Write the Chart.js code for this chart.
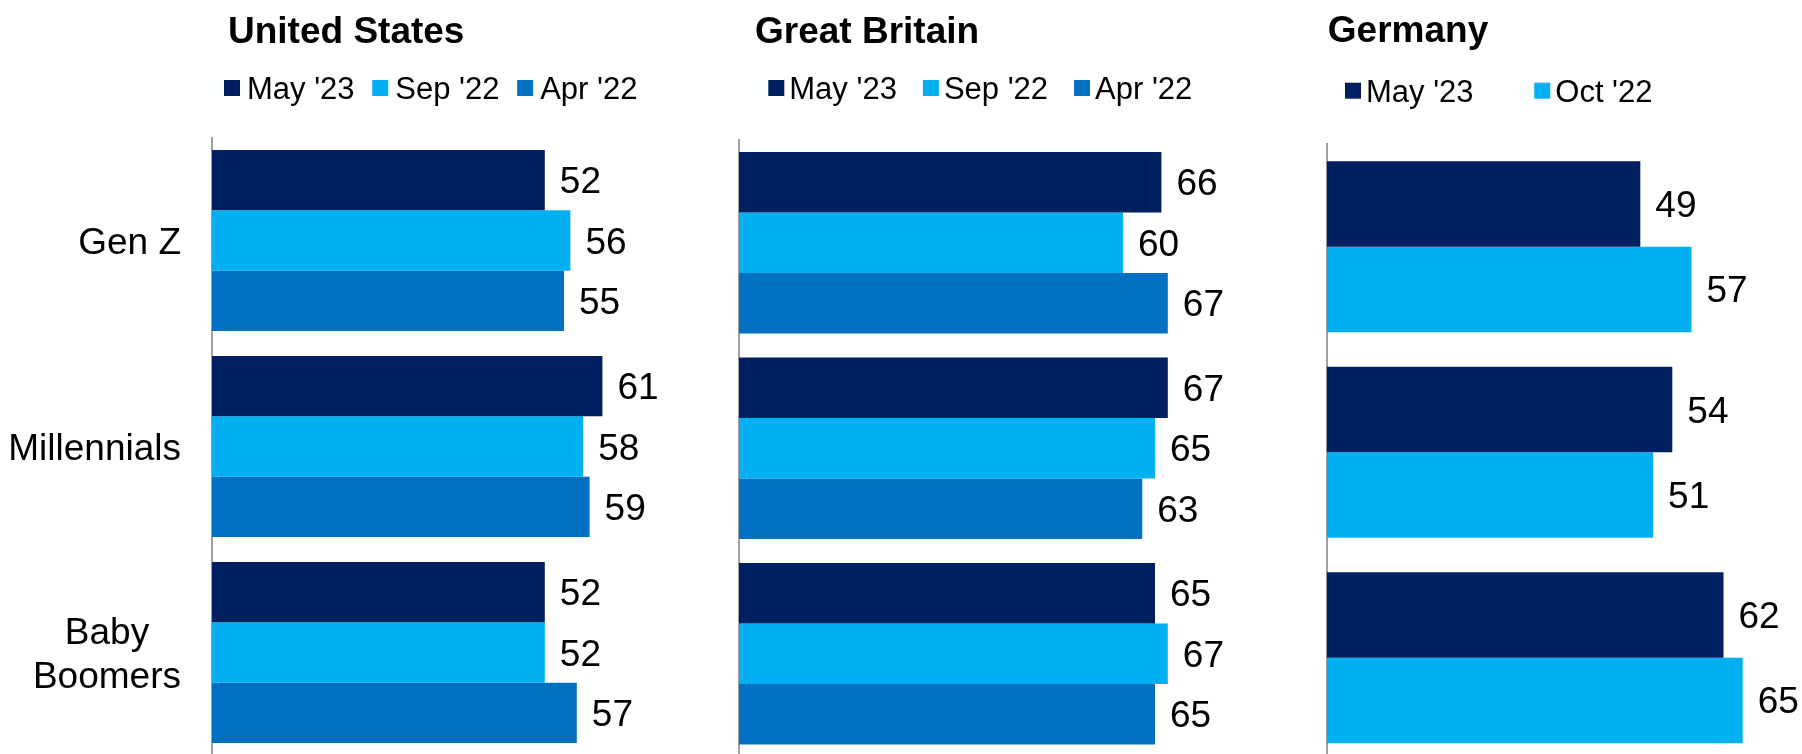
<!DOCTYPE html>
<html>
<head>
<meta charset="utf-8">
<script src="https://cdn.jsdelivr.net/npm/chart.js@4.4.1/dist/chart.umd.min.js"></script>
<style>
    html, body { margin: 0; padding: 0; background: #fff; overflow: hidden; width: 1802px; height: 754px; }
    canvas { position: absolute; top: 0; }
</style>
</head>
<body>
<canvas id="chartUS" width="730" height="770" style="left:0px"></canvas>
<canvas id="chartGB" width="570" height="770" style="left:730px"></canvas>
<canvas id="chartDE" width="502" height="770" style="left:1300px"></canvas>
<script>
const categories = ['Gen Z', 'Millennials', ['Baby', 'Boomers']];

const usWaves = ["May '23", "Sep '22", "Apr '22"];
const usMay23 = [52, 61, 52];
const usSep22 = [56, 58, 52];
const usApr22 = [55, 59, 57];

const gbWaves = ["May '23", "Sep '22", "Apr '22"];
const gbMay23 = [66, 67, 65];
const gbSep22 = [60, 65, 67];
const gbApr22 = [67, 63, 65];

const deWaves = ["May '23", "Oct '22"];
const deMay23 = [49, 54, 62];
const deOct22 = [57, 51, 65];

const NAVY = '#002060';
const SKY = '#00B0F0';
const BLUE = '#0070C0';
const FONT = '"Liberation Sans", Arial, sans-serif';
const CANVAS_H = 770;

// numbers to the right of each bar
const valueLabels = {
    id: 'valueLabels',
    afterDatasetsDraw(chart) {
        const c = chart.ctx;
        c.save();
        c.font = '37px ' + FONT;
        c.fillStyle = '#000';
        c.textAlign = 'left';
        c.textBaseline = 'alphabetic';
        chart.data.datasets.forEach((ds, di) => {
            chart.getDatasetMeta(di).data.forEach((bar, i) => {
                c.fillText(ds.data[i], bar.x + 15, bar.y + 13);
            });
        });
        c.restore();
    }
};

// category names: block right aligned, lines centred inside the block
const categoryLabels = {
    id: 'categoryLabels',
    afterDraw(chart, args, opts) {
        if (!opts.display) return;
        const { ctx: c, chartArea, scales: { y } } = chart;
        c.save();
        c.font = '37px ' + FONT;
        c.fillStyle = '#000';
        c.textAlign = 'center';
        c.textBaseline = 'alphabetic';
        chart.data.labels.forEach((label, i) => {
            const lines = [].concat(label);
            const w = Math.max(...lines.map(l => c.measureText(l).width));
            const cx = chartArea.left - opts.padding - w / 2;
            const cy = y.getPixelForValue(i);
            lines.forEach((line, k) => {
                c.fillText(line, cx, cy + 13 + (k - (lines.length - 1) / 2) * 44);
            });
        });
        c.restore();
    }
};

// country title + legend row
const panelHeader = {
    id: 'panelHeader',
    afterDraw(chart, args, opts) {
        const c = chart.ctx;
        c.save();
        c.textAlign = 'left';
        c.textBaseline = 'alphabetic';
        c.fillStyle = '#000';
        c.font = 'bold 37px ' + FONT;
        c.fillText(opts.title, opts.titleX, opts.titleY);

        c.font = '31px ' + FONT;
        let x = opts.legendX;
        chart.data.datasets.forEach(ds => {
            c.fillStyle = ds.backgroundColor;
            c.fillRect(x, opts.legendY - 19, 16, 16);
            c.fillStyle = '#000';
            c.fillText(ds.label, x + opts.textOffset, opts.legendY);
            x += opts.textOffset + c.measureText(ds.label).width + opts.itemGap;
        });
        c.restore();
    }
};

function makePanel(id, labels, series, colors, L) {
    const ctx = document.getElementById(id);
    return new Chart(ctx, {
        type: 'bar',
        data: {
            labels: categories,
            datasets: series.map((values, i) => ({
                label: labels[i],
                data: values,
                backgroundColor: colors[i],
                borderWidth: 0,
                categoryPercentage: L.catPct,
                barPercentage: 1
            }))
        },
        options: {
            indexAxis: 'y',
            responsive: false,
            animation: false,
            layout: {
                padding: { top: L.top, bottom: CANVAS_H - L.bottom, left: 0, right: L.padRight }
            },
            plugins: {
                legend: { display: false },
                tooltip: { enabled: false },
                panelHeader: L.header,
                categoryLabels: { display: !!L.showCategories, padding: 31 }
            },
            scales: {
                x: { display: false, min: 0, max: 72 },
                y: {
                    grid: { display: false },
                    ticks: { display: false },
                    border: { color: '#a0a0a0', width: 2 },
                    afterFit(s) { s.width = L.axisLeft; }
                }
            }
        },
        plugins: [valueLabels, categoryLabels, panelHeader]
    });
}

makePanel('chartUS', usWaves, [usMay23, usSep22, usApr22], [NAVY, SKY, BLUE], {
    axisLeft: 212, padRight: 57.2, top: 137.5, bottom: 755.5, catPct: 0.879,
    showCategories: true,
    header: { title: 'United States', titleX: 228, titleY: 43,
              legendX: 224, legendY: 99, textOffset: 23, itemGap: 17.7 }
});

makePanel('chartGB', gbWaves, [gbMay23, gbSep22, gbApr22], [NAVY, SKY, BLUE], {
    axisLeft: 9, padRight: 100.2, top: 140, bottom: 756.5, catPct: 0.884,
    header: { title: 'Great Britain', titleX: 25, titleY: 43,
              legendX: 38.3, legendY: 99, textOffset: 21, itemGap: 26 }
});

makePanel('chartDE', deWaves, [deMay23, deOct22], [NAVY, SKY], {
    axisLeft: 26.7, padRight: 14.5, top: 144, bottom: 760.5, catPct: 0.832,
    header: { title: 'Germany', titleX: 27.8, titleY: 42,
              legendX: 45, legendY: 101.7, textOffset: 21, itemGap: 60.7 }
});
</script>
</body>
</html>
